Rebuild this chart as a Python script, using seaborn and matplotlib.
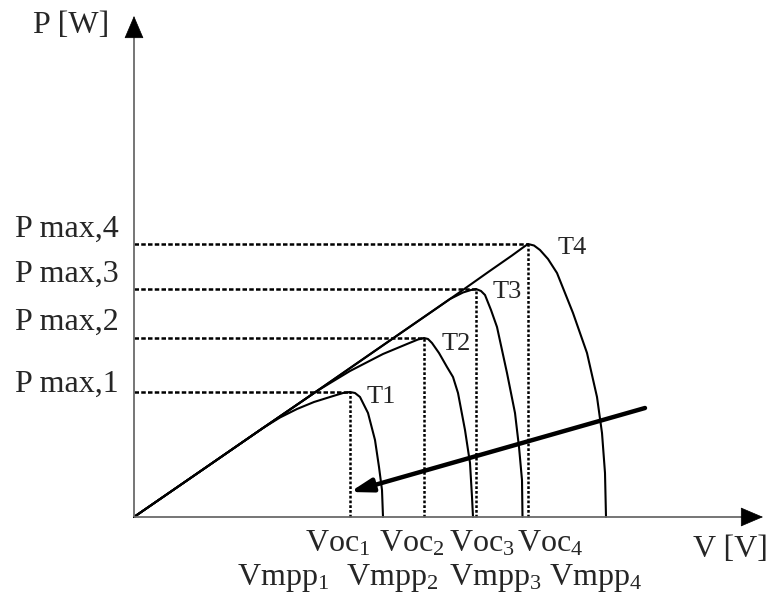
import pandas as pd
import matplotlib
matplotlib.use('Agg')
import matplotlib.pyplot as plt
import seaborn as sns

# Curve data (V, P), one list pair per temperature
v_t1 = [0, 6.6, 12.9, 14.6, 16.3, 18.0, 19.6, 20.9, 21.6, 22.1, 22.6, 23.4, 24.1, 24.5, 24.8, 24.9]
p_t1 = [0, 4.55, 8.9, 9.95, 10.8, 11.5, 12.0, 12.4, 12.5, 12.4, 12.0, 10.4, 7.7, 5.0, 2.7, 0]

v_t2 = [0, 6.6, 12.9, 18.3, 21.6, 24.9, 27.3, 28.4, 29.0, 29.4, 29.8, 30.5, 31.3, 31.9, 32.4, 33.1, 33.6, 33.8, 33.9]
p_t2 = [0, 4.55, 8.9, 12.6, 14.6, 16.3, 17.3, 17.75, 17.9, 17.8, 17.4, 16.4, 15.0, 14.0, 12.4, 8.7, 5.4, 2.0, 0]

v_t3 = [0, 6.6, 12.9, 18.3, 24.0, 30.3, 31.6, 32.9, 33.7, 34.2, 34.7, 35.1, 35.7, 36.3, 37.3, 38.1, 38.5, 38.8, 38.85]
p_t3 = [0, 4.55, 8.9, 12.6, 16.55, 20.9, 21.8, 22.45, 22.7, 22.8, 22.6, 22.2, 20.7, 19.0, 14.4, 10.4, 7.0, 3.7, 0]

v_t4 = [0, 6.6, 12.9, 18.3, 24.0, 30.3, 32.6, 35.5, 37.8, 38.9, 39.4, 40.0, 40.6, 41.4, 42.3, 43.9, 45.3, 46.3, 46.8, 47.1, 47.2]
p_t4 = [0, 4.55, 8.9, 12.6, 16.55, 20.9, 22.5, 24.55, 26.15, 26.95, 27.3, 27.15, 26.7, 25.8, 24.4, 20.4, 16.4, 12.0, 8.4, 4.4, 0]

curve_names = ['T1', 'T2', 'T3', 'T4']
v_mpp = [21.6, 29.0, 34.2, 39.4]
p_max = [12.5, 17.9, 22.8, 27.3]
v_oc = [24.9, 33.9, 38.85, 47.2]

pmax_labels = ['P max,1', 'P max,2', 'P max,3', 'P max,4']
voc_labels = ['Voc$_1$', 'Voc$_2$', 'Voc$_3$', 'Voc$_4$']
vmpp_labels = ['Vmpp$_1$', 'Vmpp$_2$', 'Vmpp$_3$', 'Vmpp$_4$']

# Long table for seaborn
frames = []
for name, v, p in zip(curve_names, [v_t1, v_t2, v_t3, v_t4], [p_t1, p_t2, p_t3, p_t4]):
    frames.append(pd.DataFrame({'V': v, 'P': p, 'curve': name}))
df = pd.concat(frames, ignore_index=True)

sns.set_style('white')
plt.rcParams['font.family'] = ['Liberation Serif', 'DejaVu Serif']
plt.rcParams['mathtext.fontset'] = 'custom'
plt.rcParams['mathtext.rm'] = 'Liberation Serif'
plt.rcParams['mathtext.it'] = 'Liberation Serif'

fig = plt.figure(figsize=(7.69, 6.07), dpi=100)
ax = fig.add_axes([0, 0, 1, 1])
ax.set_xlim(-13.4, 63.5)
ax.set_ylim(-9.0, 51.7)
ax.axis('off')

# dashed guides to the maximum power points
ax.hlines(p_max, 0, v_mpp, colors='k', lw=1.8, linestyles=(0, (1.8, 0.9)))
ax.vlines(v_mpp, 0, p_max, colors='k', lw=1.8, linestyles=(0, (1.1, 0.8)))

sns.lineplot(data=df, x='V', y='P', units='curve', estimator=None, sort=False,
             color='k', lw=1.5, ax=ax, legend=False)

# axes with arrow heads
axis_col = '#6a6a6a'
ax.plot([0, 0], [0, 48.0], color=axis_col, lw=1.3, solid_capstyle='butt')
ax.plot([0, 60.8], [0, 0], color=axis_col, lw=1.3, solid_capstyle='butt')
head = dict(arrowstyle='-|>,head_length=0.75,head_width=0.32', color='k',
            mutation_scale=20, lw=0.5, shrinkA=0, shrinkB=0)
ax.annotate('', xy=(0, 50.1), xytext=(0, 48.0), arrowprops=head)
ax.annotate('', xy=(62.9, 0), xytext=(60.8, 0), arrowprops=head)

# temperature arrow
ax.annotate('', xy=(21.6, 2.5), xytext=(51.1, 10.9),
            arrowprops=dict(arrowstyle='-|>,head_length=1.3,head_width=0.4',
                            color='k', lw=3.2, mutation_scale=10,
                            shrinkA=0, shrinkB=0))

fs = 23
ax.text(-10.1, 48.4, 'P [W]', fontsize=fs, va='baseline', ha='left')
ax.text(55.9, -4.0, 'V [V]', fontsize=fs, va='baseline', ha='left')

pmax_text_y = [12.5, 18.7, 23.5, 28.0]
for lab, y in zip(pmax_labels, pmax_text_y):
    ax.text(-1.5, y, lab, fontsize=fs, va='baseline', ha='right')

voc_text_x = [17.1, 24.5, 31.5, 38.3]
for lab, x in zip(voc_labels, voc_text_x):
    ax.text(x, -3.4, lab, fontsize=fs, va='baseline', ha='left')

vmpp_text_x = [10.3, 21.2, 31.5, 41.5]
for lab, x in zip(vmpp_labels, vmpp_text_x):
    ax.text(x, -6.8, lab, fontsize=fs, va='baseline', ha='left')

t_text_xy = [(23.3, 11.4), (30.8, 16.7), (35.9, 21.9), (42.4, 26.3)]
for name, (x, y) in zip(curve_names, t_text_xy):
    ax.text(x, y, name, fontsize=19, va='baseline', ha='left')

fig.savefig('out.png', dpi=100)
